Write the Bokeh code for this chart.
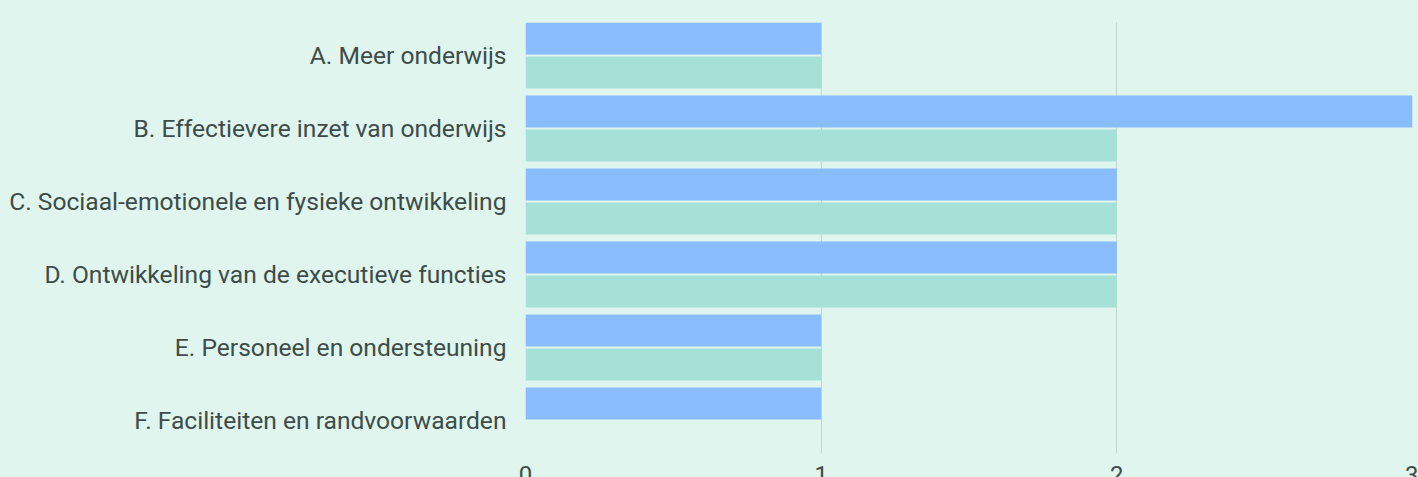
import numpy as np
from bokeh.plotting import figure
from bokeh.models import Range1d, FixedTicker, ColumnDataSource, GlobalInlineStyleSheet
from bokeh.embed import file_html
from bokeh.resources import INLINE

categories = [
    "A. Meer onderwijs",
    "B. Effectievere inzet van onderwijs",
    "C. Sociaal-emotionele en fysieke ontwikkeling",
    "D. Ontwikkeling van de executieve functies",
    "E. Personeel en ondersteuning",
    "F. Faciliteiten en randvoorwaarden",
]
series_blue = [1, 3, 2, 2, 1, 1]
series_green = [1, 2, 2, 2, 1, 0]
x_ticks = [0, 1, 2, 3]

BG = "#dff5ee"
BLUE = "#89bdfd"
GREEN = "#a5e1d7"
GRID = "#c3d5ce"
TEXT = "#3d4c49"
FONT = "Roboto"

n = len(categories)
pos = np.array([n - 1 - i for i in range(n)], dtype=float)
off = 17.0 / 73.0
bar_h = 32.0 / 73.0

src = ColumnDataSource(dict(
    y_blue=pos + off, y_green=pos - off,
    blue=series_blue, green=series_green, cat=categories,
))

css = GlobalInlineStyleSheet(css=f"html,body{{margin:0;padding:0;background:{BG};overflow:hidden;}}")

p = figure(
    width=1418, height=493,
    x_range=Range1d(0, 3), y_range=Range1d(-0.452, n - 1 + 0.452),
    output_backend="svg", toolbar_location=None,
    min_border_left=525, min_border_right=6, min_border_top=22, min_border_bottom=40,
    background_fill_color=BG, border_fill_color=BG,
    stylesheets=[css],
)
p.outline_line_color = None

p.hbar(y="y_blue", left=0, right="blue", height=bar_h, source=src,
       fill_color=BLUE, line_color=None)
p.hbar(y="y_green", left=0, right="green", height=bar_h, source=src,
       fill_color=GREEN, line_color=None)

p.ygrid.grid_line_color = None
p.xgrid.ticker = FixedTicker(ticks=x_ticks)
p.xgrid.grid_line_color = GRID
p.xgrid.grid_line_width = 1

xa = p.xaxis[0]
xa.ticker = FixedTicker(ticks=x_ticks)
xa.axis_line_color = None
xa.major_tick_line_color = None
xa.minor_tick_line_color = None
xa.major_label_standoff = 6
xa.major_label_text_font = FONT
xa.major_label_text_font_size = "24px"
xa.major_label_text_color = TEXT

ya = p.yaxis[0]
ya.ticker = FixedTicker(ticks=list(pos))
ya.major_label_overrides = {float(k): c for k, c in zip(pos, categories)}
ya.axis_line_color = None
ya.major_tick_line_color = None
ya.minor_tick_line_color = None
ya.major_label_standoff = 13
ya.major_label_text_font = FONT
ya.major_label_text_font_size = "24.6px"
ya.major_label_text_color = TEXT

open("out.html", "w").write(file_html(p, INLINE))
